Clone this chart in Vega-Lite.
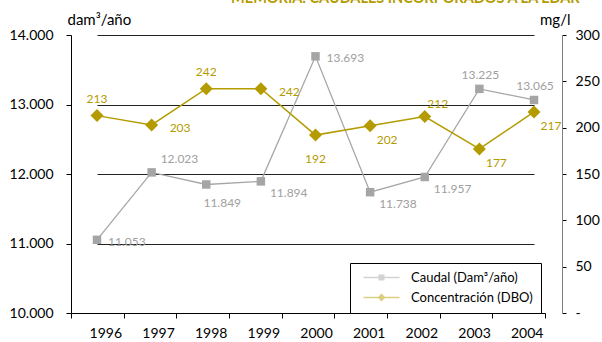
{
  "$schema": "https://vega.github.io/schema/vega-lite/v6.json",
  "width": 491,
  "height": 278,
  "autosize": {"type": "none"},
  "padding": {"left": 71, "top": 35, "right": 40, "bottom": 29},
  "background": "white",
  "config": {
    "font": "Lato",
    "view": {"stroke": null},
    "locale": {"number": {"decimal": ",", "thousands": ".", "grouping": [3], "currency": ["", " €"]}},
    "axis": {"labelColor": "black", "titleColor": "black", "labelFontSize": 14, "titleFontSize": 15, "titleFontWeight": "normal"}
  },
  "title": {
    "text": "MEMORIA: CAUDALES INCORPORADOS A LA EDAR",
    "anchor": "start",
    "dx": 222,
    "dy": -2,
    "fontSize": 14.5,
    "fontWeight": "bold",
    "color": "#b49b00"
  },
  "data": {
    "values": [
      {"year": "1996", "caudal": 11053, "dbo": 213},
      {"year": "1997", "caudal": 12023, "dbo": 203},
      {"year": "1998", "caudal": 11849, "dbo": 242},
      {"year": "1999", "caudal": 11894, "dbo": 242},
      {"year": "2000", "caudal": 13693, "dbo": 192},
      {"year": "2001", "caudal": 11738, "dbo": 202},
      {"year": "2002", "caudal": 11957, "dbo": 212},
      {"year": "2003", "caudal": 13225, "dbo": 177},
      {"year": "2004", "caudal": 13065, "dbo": 217}
    ]
  },
  "layer": [
    {
      "encoding": {
        "x": {"field": "year", "type": "ordinal", "scale": {"type": "point", "range": [26, 463], "padding": 0}, "axis": null},
        "y": {
          "field": "caudal", "type": "quantitative",
          "scale": {"domain": [10000, 14000], "nice": false, "zero": false},
          "axis": {
            "values": [10000, 11000, 12000, 13000, 14000],
            "format": ",d",
            "grid": true, "gridColor": "#222222", "gridWidth": 1,
            "domainColor": "black", "tickColor": "black", "tickSize": 5,
            "labelPadding": 13,
            "title": "dam³/año", "titleAngle": 0, "titleX": -4, "titleY": -11,
            "titleAlign": "left", "titleBaseline": "alphabetic"
          }
        }
      },
      "layer": [
        {"mark": {"type": "line", "color": "#a6a6a6", "strokeWidth": 1.3}},
        {"mark": {"type": "point", "shape": "square", "filled": true, "size": 72, "color": "#a5a5a5", "opacity": 1}},
        {"transform": [{"filter": {"field": "year", "oneOf": ["1996", "2000"]}}],
         "mark": {"type": "text", "align": "left", "dx": 11, "dy": 2, "fontSize": 12, "color": "#a0a0a0"},
         "encoding": {"text": {"field": "caudal", "type": "quantitative", "format": ",d"}}},
        {"transform": [{"filter": {"field": "year", "oneOf": ["1999", "2001", "2002"]}}],
         "mark": {"type": "text", "align": "left", "dx": 9, "dy": 12, "fontSize": 12, "color": "#a0a0a0"},
         "encoding": {"text": {"field": "caudal", "type": "quantitative", "format": ",d"}}},
        {"transform": [{"filter": {"field": "year", "oneOf": ["1998"]}}],
         "mark": {"type": "text", "align": "center", "dx": 16, "dy": 19, "fontSize": 12, "color": "#a0a0a0"},
         "encoding": {"text": {"field": "caudal", "type": "quantitative", "format": ",d"}}},
        {"transform": [{"filter": {"field": "year", "oneOf": ["1997"]}}],
         "mark": {"type": "text", "align": "left", "dx": 9, "dy": -13, "fontSize": 12, "color": "#a0a0a0"},
         "encoding": {"text": {"field": "caudal", "type": "quantitative", "format": ",d"}}},
        {"transform": [{"filter": {"field": "year", "oneOf": ["2003", "2004"]}}],
         "mark": {"type": "text", "align": "center", "dx": 1, "dy": -14, "fontSize": 12, "color": "#a0a0a0"},
         "encoding": {"text": {"field": "caudal", "type": "quantitative", "format": ",d"}}}
      ]
    },
    {
      "encoding": {
        "x": {"field": "year", "type": "ordinal", "scale": {"type": "point", "range": [26, 463], "padding": 0}, "axis": null},
        "y": {
          "field": "dbo", "type": "quantitative",
          "scale": {"domain": [0, 300], "nice": false},
          "axis": {
            "orient": "right",
            "values": [0, 50, 100, 150, 200, 250, 300],
            "labelExpr": "datum.value == 0 ? '-' : datum.label",
            "grid": false,
            "domainColor": "#808080", "tickColor": "black", "tickSize": 4,
            "labelPadding": 9,
            "title": "mg/l", "titleAngle": 0, "titleX": 8, "titleY": -11,
            "titleAlign": "right", "titleBaseline": "alphabetic"
          }
        }
      },
      "layer": [
        {"mark": {"type": "line", "color": "#b49b00", "strokeWidth": 1.5}},
        {"mark": {"type": "point", "shape": "diamond", "filled": true, "size": 169, "color": "#b49b00", "opacity": 1}},
        {"transform": [{"filter": {"field": "year", "oneOf": ["1996", "1998"]}}],
         "mark": {"type": "text", "align": "center", "dy": -17, "fontSize": 12, "color": "#b49b00"},
         "encoding": {"text": {"field": "dbo", "type": "quantitative"}}},
        {"transform": [{"filter": {"field": "year", "oneOf": ["1997", "1999"]}}],
         "mark": {"type": "text", "align": "left", "dx": 18, "dy": 3, "fontSize": 12, "color": "#b49b00"},
         "encoding": {"text": {"field": "dbo", "type": "quantitative"}}},
        {"transform": [{"filter": {"field": "year", "oneOf": ["2000"]}}],
         "mark": {"type": "text", "align": "center", "dy": 24, "fontSize": 12, "color": "#b49b00"},
         "encoding": {"text": {"field": "dbo", "type": "quantitative"}}},
        {"transform": [{"filter": {"field": "year", "oneOf": ["2001", "2003", "2004"]}}],
         "mark": {"type": "text", "align": "center", "dx": 17, "dy": 14, "fontSize": 12, "color": "#b49b00"},
         "encoding": {"text": {"field": "dbo", "type": "quantitative"}}},
        {"transform": [{"filter": {"field": "year", "oneOf": ["2002"]}}],
         "mark": {"type": "text", "align": "center", "dx": 13, "dy": -13, "fontSize": 12, "color": "#b49b00"},
         "encoding": {"text": {"field": "dbo", "type": "quantitative"}}},
        {
          "data": {"values": [{"serie": "Caudal (Dam³/año)"}, {"serie": "Concentración (DBO)"}]},
          "transform": [{"filter": "datum.serie == 'none'"}],
          "mark": {"type": "point", "filled": true},
          "encoding": {
            "color": {"field": "serie", "type": "nominal",
              "scale": {"domain": ["Caudal (Dam³/año)", "Concentración (DBO)"], "range": ["#a5a5a5", "#b49b00"]},
              "legend": {
                "title": null, "orient": "none", "legendX": 279, "legendY": 228,
                "strokeColor": "black", "fillColor": "white", "padding": 8,
                "symbolSize": 100, "symbolStrokeWidth": 0, "symbolOpacity": 1,
                "labelFontSize": 13, "labelColor": "black", "labelOffset": 40, "rowPadding": 6
              }},
            "shape": {"field": "serie", "type": "nominal",
              "scale": {"domain": ["Caudal (Dam³/año)", "Concentración (DBO)"],
                "range": ["M-0.2,-0.15H7V0.15H-0.2ZM2.8,-0.6H4V0.6H2.8Z", "M-0.2,-0.15H7V0.15H-0.2ZM3.4,-0.8L4.2,0L3.4,0.8L2.6,0Z"]}}
          }
        }
      ]
    },
    {
      "mark": {"type": "point", "opacity": 0},
      "encoding": {
        "x": {
          "field": "year", "type": "ordinal",
          "scale": {"type": "band", "range": [0, 474], "paddingInner": 0, "paddingOuter": 0},
          "axis": {
            "title": null, "labelAngle": 0, "tickBand": "extent", "labelOffset": 8,
            "tickSize": 5, "labelPadding": 8, "domainColor": "black", "tickColor": "black", "grid": false
          }
        }
      }
    }
  ],
  "resolve": {"scale": {"x": "independent", "y": "independent"}}
}
